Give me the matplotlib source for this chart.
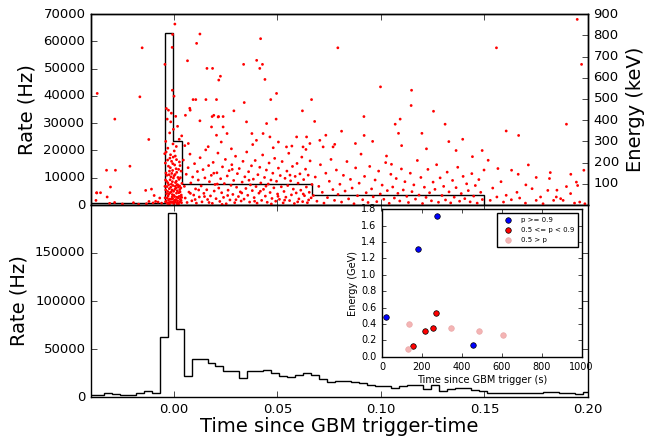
import numpy as np
import matplotlib
matplotlib.use("Agg")
import matplotlib.pyplot as plt

plt.style.use("classic")

# --- top panel: Bayesian-block rate (s, Hz) ---
top_edges = [-0.0416, -0.00435, -0.0003, 0.0040, 0.0668, 0.1498]
top_rate = [800, 63000, 23600, 7600, 3500]

# --- bottom panel: fixed-bin light curve (Hz) ---
bin_start = -0.04164
bin_width = 0.00386
bot_rate = [1800, 1800, 3800, 3500, 2400, 2300, 4500, 5900, 4100, 62400,
            191800, 70700, 21700, 39300, 39500, 35900, 32100, 27200, 27300, 19300,
            27600, 27400, 28300, 24500, 22100, 20700, 23100, 25500, 22800, 18600,
            15800, 17000, 17000, 15500, 14100, 12100, 11400, 11400, 9600, 11000,
            12100, 12400, 8000, 12100, 6500, 8800, 9000, 9200, 7800, 6200,
            4500, 4400, 4600, 4400, 4300, 4500, 4300, 5200, 5600, 4000,
            3800, 3600, 5300]

# --- photon events (time in ms, energy in keV) ---
pre_pts = [(-37.0, 526), (-28.5, 405), (-15.3, 741), (-16.4, 510), (-12.1, 309),
           (-21.2, 183), (-32.5, 164), (-28.2, 164), (-30.6, 85), (-37.3, 58),
           (-35.4, 58), (-21.2, 58), (-32.2, 38), (-13.6, 69), (-10.8, 75),
           (-12.0, 17), (-8.8, 17), (-31.0, 8), (-28.6, 12), (-13.2, 6),
           (-10.0, 10), (-7.6, 14), (-5.9, 9), (-37.2, 57), (-37.6, 22),
           (-24.8, 5), (-19.5, 11), (-6.8, 33), (-9.5, 45), (-17.0, 4)]

spike_pts = [(-4.3, 663), (-0.6, 804), (-0.8, 743), (0.5, 853), (-0.7, 541),
             (0.1, 513), (-3.6, 455), (-2.6, 447), (-1.2, 433), (-3.2, 405),
             (1.8, 371), (-0.2, 357), (-2.0, 340), (3.8, 326), (-1.5, 392),
             (0.9, 418), (-3.9, 300), (2.6, 310), (-0.4, 288), (1.2, 276),
             (-4.4, 242), (-4.1, 198), (-3.8, 151), (-3.5, 112), (-3.3, 87),
             (-3.0, 64), (-2.8, 43), (-2.5, 25), (-2.3, 12), (-2.1, 5),
             (-1.9, 221), (-1.7, 176), (-1.4, 133), (-1.2, 98), (-0.9, 71),
             (-0.7, 49), (-0.5, 30), (-0.3, 16), (-0.1, 7), (0.2, 255),
             (0.4, 189), (0.6, 144), (0.8, 106), (1.1, 80), (1.3, 56),
             (1.5, 37), (1.8, 20), (2.0, 9), (2.3, 168), (2.5, 121),
             (2.8, 90), (3.0, 62), (3.3, 40), (3.5, 22), (3.7, 11),
             (-4.2, 34), (-3.9, 71), (-3.6, 19), (-3.4, 140), (-3.1, 8),
             (-2.9, 105), (-2.6, 183), (-2.4, 52), (-2.2, 77), (-2.0, 28),
             (-1.8, 119), (-1.6, 14), (-1.3, 61), (-1.1, 206), (-0.8, 38),
             (-0.6, 163), (-0.4, 92), (-0.2, 127), (0.0, 46), (0.3, 18),
             (0.5, 74), (0.7, 231), (1.0, 26), (1.2, 112), (1.4, 154),
             (1.7, 67), (1.9, 95), (2.1, 34), (2.4, 58), (2.7, 203),
             (2.9, 15), (3.2, 129), (3.4, 81), (3.6, 47), (3.9, 102),
             (-4.0, 118), (-3.7, 250), (-3.2, 33), (-2.7, 9), (-2.3, 143),
             (-1.9, 58), (-1.5, 84), (-1.0, 12), (-0.5, 195), (0.1, 138),
             (0.6, 23), (1.1, 171), (1.6, 6), (2.2, 85), (2.6, 41),
             (3.1, 27), (3.5, 160), (-4.3, 88), (-3.5, 54), (-2.9, 268),
             (-2.1, 160), (-1.3, 27), (-0.7, 110), (-0.1, 65), (0.4, 40),
             (0.9, 13), (1.5, 96), (2.0, 130), (2.9, 73), (3.8, 36),
             (-3.0, 212), (-1.6, 237), (-0.3, 226), (1.3, 214), (3.0, 186),
             (-2.5, 96), (-1.0, 149), (0.7, 88), (2.3, 5), (-4.0, 15)]

main_pts = [(12.6, 806), (11.0, 762), (6.6, 680), (16.0, 644), (18.7, 644),
            (22.5, 607), (21.7, 589), (33.7, 663), (40.0, 682), (42.8, 663),
            (41.5, 644), (41.9, 784), (44.0, 592), (49.6, 526), (66.5, 497),
            (62.1, 444), (46.8, 497), (34.0, 483), (29.0, 444), (49.4, 405),
            (9.3, 497), (10.6, 497), (7.7, 456), (15.5, 497), (20.6, 497),
            (18.5, 417), (21.6, 417), (23.8, 417), (68.0, 394), (7.9, 447),
            (5.6, 423), (12.6, 397), (19.3, 423), (21.4, 415), (18.2, 368),
            (23.8, 368), (20.6, 329), (22.9, 297), (25.7, 337), (35.1, 392),
            (37.7, 337), (39.9, 305), (43.1, 337), (44.8, 384), (46.4, 321),
            (50.5, 297), (54.4, 274), (59.3, 321), (62.4, 274), (64.1, 321),
            (65.7, 290),
            (4.6, 212), (5.1, 88), (5.5, 33), (6.0, 145), (6.4, 12),
            (6.9, 176), (7.3, 61), (7.8, 240), (8.2, 104), (8.7, 20),
            (9.1, 132), (9.6, 47), (10.0, 195), (10.5, 76), (10.9, 9),
            (11.4, 158), (11.8, 118), (12.3, 38), (12.7, 223), (13.2, 90),
            (13.6, 15), (14.1, 167), (14.5, 55), (15.0, 128), (15.4, 260),
            (15.9, 72), (16.3, 26), (16.8, 186), (17.2, 110), (17.7, 43),
            (18.1, 140), (18.6, 8), (19.0, 201), (19.5, 66), (19.9, 97),
            (20.4, 30), (20.8, 152), (21.3, 245), (21.7, 80), (22.2, 17),
            (22.6, 124), (23.1, 58), (23.5, 180), (24.0, 36), (24.4, 101),
            (24.9, 215), (25.3, 6), (25.8, 137), (26.2, 70), (26.7, 162),
            (27.1, 24), (27.6, 93), (28.0, 190), (28.5, 50), (28.9, 116),
            (29.4, 11), (29.8, 230), (30.3, 84), (30.7, 148), (31.2, 40),
            (31.6, 172), (32.1, 62), (32.5, 19), (33.0, 108), (33.4, 206),
            (33.9, 28), (34.3, 133), (34.8, 78), (35.2, 250), (35.7, 46),
            (36.1, 157), (36.6, 14), (37.0, 95), (37.5, 185), (37.9, 68),
            (38.4, 122), (38.8, 35), (39.3, 210), (39.7, 87), (40.2, 9),
            (40.6, 143), (41.1, 56), (41.5, 178), (42.0, 104), (42.4, 22),
            (42.9, 236), (43.3, 74), (43.8, 130), (44.2, 42), (44.7, 165),
            (45.1, 13), (45.6, 99), (46.0, 198), (46.5, 59), (46.9, 118),
            (47.4, 31), (47.8, 150), (48.3, 81), (48.7, 220), (49.2, 18),
            (49.6, 112), (50.1, 52), (50.5, 174), (51.0, 27), (51.4, 139),
            (51.9, 86), (52.3, 205), (52.8, 10), (53.2, 64), (53.7, 126),
            (54.1, 37), (54.6, 160), (55.0, 92), (55.5, 244), (55.9, 21),
            (56.4, 114), (56.8, 48), (57.3, 182), (57.7, 75), (58.2, 7),
            (58.6, 135), (59.1, 57), (59.5, 196), (60.0, 103), (60.4, 29),
            (60.9, 147), (61.3, 70), (61.8, 226), (62.2, 16), (62.7, 120),
            (63.1, 44), (63.6, 169), (64.0, 85), (64.5, 11), (64.9, 141),
            (65.4, 60), (65.8, 208), (66.3, 34), (66.7, 97), (5.3, 280),
            (8.0, 55), (10.3, 26), (12.0, 71), (14.8, 40), (17.0, 12),
            (19.3, 150), (21.0, 99), (23.3, 3), (26.0, 45), (28.2, 168),
            (30.0, 25), (32.8, 57), (36.3, 117), (39.0, 18), (41.8, 65),
            (44.5, 89), (47.1, 5), (50.3, 41), (53.5, 23), (56.1, 141),
            (59.8, 15), (62.5, 52), (65.1, 24), (7.0, 290), (16.6, 275),
            (27.8, 265), (38.1, 285), (48.0, 270), (57.0, 278), (63.8, 262)]

tail_pts = [(79.2, 741), (99.8, 557), (114.8, 541), (114.6, 469), (125.4, 442),
            (91.8, 417), (109.3, 405), (106.9, 381), (131.0, 381), (81.0, 348),
            (108.5, 338), (119.8, 338), (91.9, 328), (132.8, 299), (87.7, 290),
            (77.7, 286), (110.0, 280), (136.3, 257), (148.9, 257), (102.7, 231),
            (144.2, 228), (105.1, 192), (70.5, 305), (72.1, 274), (73.4, 329),
            (76.9, 274), (96.0, 300), (122.0, 265), (139.5, 310),
            (67.4, 45), (68.3, 132), (69.1, 18), (70.0, 88), (70.8, 190),
            (71.7, 60), (72.5, 9), (73.4, 150), (74.2, 35), (75.1, 112),
            (75.9, 215), (76.8, 73), (77.6, 22), (78.5, 165), (79.3, 50),
            (80.2, 98), (81.0, 14), (81.9, 140), (82.7, 66), (83.6, 205),
            (84.4, 29), (85.3, 121), (86.1, 80), (87.0, 6), (87.8, 175),
            (88.7, 44), (89.5, 103), (90.4, 240), (91.2, 25), (92.1, 135),
            (92.9, 58), (93.8, 12), (94.6, 182), (95.5, 76), (96.3, 39),
            (97.2, 118), (98.0, 16), (98.9, 160), (99.7, 52), (100.6, 94),
            (101.4, 27), (102.3, 200), (103.1, 68), (104.0, 8), (104.8, 145),
            (105.7, 85), (106.5, 33), (107.4, 125), (108.2, 55), (109.1, 19),
            (109.9, 170), (110.8, 71), (111.6, 110), (112.5, 41), (113.3, 12),
            (114.2, 150), (115.0, 63), (115.9, 95), (116.7, 28), (117.6, 210),
            (118.4, 47), (119.3, 130), (120.1, 7), (121.0, 84), (121.8, 36),
            (122.7, 168), (123.5, 58), (124.4, 20), (125.2, 108), (126.1, 74),
            (126.9, 190), (127.8, 13), (128.6, 128), (129.5, 45), (130.3, 88),
            (131.2, 24), (132.0, 155), (132.9, 62), (133.7, 10), (134.6, 116),
            (135.4, 37), (136.3, 82), (137.1, 178), (138.0, 18), (138.8, 54),
            (139.7, 135), (140.5, 30), (141.4, 100), (142.2, 68), (143.1, 15),
            (143.9, 148), (144.8, 42), (145.6, 92), (146.5, 9), (147.3, 120),
            (148.2, 60), (149.0, 26), (149.8, 165)]

late_pts = [(155.8, 741), (194.8, 875), (196.9, 663), (160.5, 349), (166.5, 328),
            (189.6, 381), (151.8, 211), (156.5, 172), (163.1, 164), (166.3, 145),
            (171.2, 189), (181.4, 125), (181.8, 153), (198.0, 164), (191.7, 145),
            (189.6, 87), (194.4, 108), (160.5, 46), (163.0, 25), (169.8, 9),
            (175.0, 22), (178.3, 6), (184.7, 38), (188.0, 22), (193.5, 9),
            (196.0, 14), (198.5, 6), (152.8, 22), (156.0, 38), (159.2, 14),
            (165.7, 60), (173.0, 77), (177.1, 38), (180.6, 69), (186.8, 30),
            (191.6, 54), (183.4, 22), (158.0, 110), (170.0, 95), (175.0, 130),
            (185.0, 70), (195.0, 92), (167.0, 33), (154.0, 80)]

# --- LAT photons for the inset (s, GeV) ---
hi_t = [22, 179, 277, 457]
hi_e = [0.48, 1.32, 1.72, 0.14]
mid_t = [155, 217, 255, 270]
mid_e = [0.13, 0.31, 0.35, 0.53]
lo_t = [128, 135, 346, 488, 608]
lo_e = [0.10, 0.40, 0.35, 0.31, 0.27]

events = np.array(pre_pts + spike_pts + main_pts + tail_pts + late_pts)
ev_t = events[:, 0] / 1000.0
ev_e = events[:, 1]

fig = plt.figure(figsize=(6.5, 4.4), dpi=100, facecolor="white")
ax1 = fig.add_axes([0.14, 0.534, 0.7646, 0.434])
ax3 = fig.add_axes([0.14, 0.0977, 0.7646, 0.4364], sharex=ax1)

# top panel
ax1.stairs(top_rate, top_edges, color="k", lw=1)
ax1.set_ylim(0, 70000)
ax1.set_yticks(np.arange(0, 70001, 10000))
ax1.set_ylabel("Rate (Hz)", fontsize=14)
ax1.tick_params(labelsize=9.5)
plt.setp(ax1.get_xticklabels(), visible=False)

ax2 = ax1.twinx()
ax2.scatter(ev_t, ev_e, s=4, c="red", edgecolors="none")
ax2.set_ylim(0, 900)
ax2.set_yticks(np.arange(100, 901, 100))
ax2.set_ylabel("Energy (keV)", fontsize=14)
ax2.tick_params(labelsize=9.5)

# bottom panel
bot_edges = bin_start + bin_width * np.arange(len(bot_rate) + 1)
ax3.stairs(bot_rate, bot_edges, color="k", lw=1)
ax3.set_ylim(0, 200000)
ax3.set_yticks([0, 50000, 100000, 150000])
ax3.set_xlim(-0.04, 0.20)
ax3.set_xticks([0.0, 0.05, 0.10, 0.15, 0.20])
ax3.set_ylabel("Rate (Hz)", fontsize=14)
ax3.set_xlabel("Time since GBM trigger-time", fontsize=14, labelpad=1)
ax3.tick_params(labelsize=9.5)

# inset
ins = fig.add_axes([0.5877, 0.1893, 0.3072, 0.335])
ins.scatter(hi_t, hi_e, s=16, c="blue", edgecolors="k", linewidths=0.5, label="p >= 0.9")
ins.scatter(mid_t, mid_e, s=16, c="red", edgecolors="k", linewidths=0.5, label="0.5 <= p < 0.9")
ins.scatter(lo_t, lo_e, s=16, c="#f4b4b4", edgecolors="#eaa8a8", linewidths=0.5, label="0.5 > p")
ins.set_xlim(0, 1000)
ins.set_ylim(0, 1.8)
ins.set_yticks(np.arange(0, 1.81, 0.2))
ins.tick_params(labelsize=7, length=3)
ins.set_xlabel("Time since GBM trigger (s)", fontsize=7, labelpad=2)
ins.set_ylabel("Energy (GeV)", fontsize=7, labelpad=2)
ins.legend(loc="upper right", fontsize=5, scatterpoints=1, borderpad=0.6, labelspacing=0.6)

fig.savefig("out.png", dpi=100, facecolor="white")
